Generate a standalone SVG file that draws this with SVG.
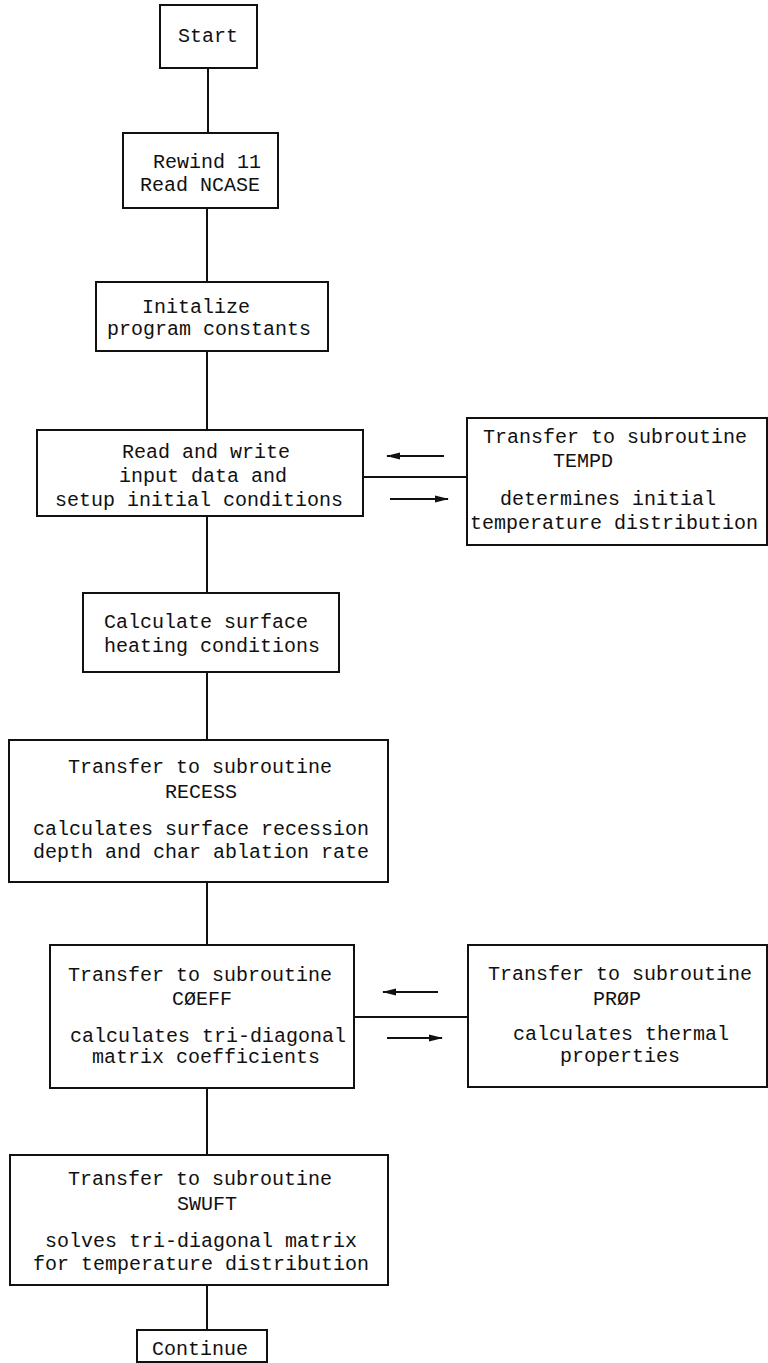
<svg xmlns="http://www.w3.org/2000/svg" width="768" height="1363" viewBox="0 0 768 1363">
<style>
.box{fill:#fff;stroke:#111;stroke-width:2}
.t{font-family:"Liberation Mono","DejaVu Sans Mono",monospace;font-size:20px;fill:#111;text-anchor:middle}
.c{stroke:#111;stroke-width:2;fill:none}
.a{stroke:#111;stroke-width:2;fill:none}
</style>
<defs>
<marker id="ah" markerWidth="14" markerHeight="10" refX="13" refY="5" orient="auto" markerUnits="userSpaceOnUse">
<path d="M0,1.5 L14,5 L0,8.5 Z" fill="#111"/>
</marker>
</defs>
<rect width="768" height="1363" fill="#fff"/>
<g id="connectors">
<line class="c" x1="208" y1="68" x2="208" y2="133"/>
<line class="c" x1="207" y1="208" x2="207" y2="282"/>
<line class="c" x1="207" y1="351" x2="207" y2="430"/>
<line class="c" x1="207" y1="516" x2="207" y2="593"/>
<line class="c" x1="207" y1="672" x2="207" y2="740"/>
<line class="c" x1="207" y1="882" x2="207" y2="945"/>
<line class="c" x1="207" y1="1088" x2="207" y2="1155"/>
<line class="c" x1="207" y1="1285" x2="207" y2="1330"/>
<line class="c" x1="363" y1="477" x2="467" y2="477"/>
<line class="a" x1="444" y1="456" x2="387" y2="456" marker-end="url(#ah)"/>
<line class="a" x1="390" y1="499" x2="448" y2="499" marker-end="url(#ah)"/>
<line class="c" x1="354" y1="1017" x2="468" y2="1017"/>
<line class="a" x1="438" y1="992" x2="383" y2="992" marker-end="url(#ah)"/>
<line class="a" x1="387" y1="1038" x2="442" y2="1038" marker-end="url(#ah)"/>
</g>
<g id="start">
<rect class="box" x="160" y="5" width="97" height="63"/>
<text class="t" x="208" y="42">Start</text>
</g>
<g id="rewind">
<rect class="box" x="123" y="133" width="155" height="75"/>
<text class="t" x="207" y="168">Rewind 11</text>
<text class="t" x="200" y="191">Read NCASE</text>
</g>
<g id="initialize">
<rect class="box" x="96" y="282" width="232" height="69"/>
<text class="t" x="196" y="313">Initalize</text>
<text class="t" x="209" y="335">program constants</text>
</g>
<g id="readwrite">
<rect class="box" x="37" y="430" width="326" height="86"/>
<text class="t" x="206" y="458">Read and write</text>
<text class="t" x="203" y="482">input data and</text>
<text class="t" x="199" y="506">setup initial conditions</text>
</g>
<g id="tempd">
<rect class="box" x="467" y="418" width="300" height="127"/>
<text class="t" x="615" y="443">Transfer to subroutine</text>
<text class="t" x="583" y="467">TEMPD</text>
<text class="t" x="608" y="505">determines initial</text>
<text class="t" x="614" y="529">temperature distribution</text>
</g>
<g id="heating">
<rect class="box" x="83" y="593" width="256" height="79"/>
<text class="t" x="206" y="628">Calculate surface</text>
<text class="t" x="212" y="652">heating conditions</text>
</g>
<g id="recess">
<rect class="box" x="9" y="740" width="379" height="142"/>
<text class="t" x="200" y="773">Transfer to subroutine</text>
<text class="t" x="201" y="798">RECESS</text>
<text class="t" x="201" y="835">calculates surface recession</text>
<text class="t" x="201" y="858">depth and char ablation rate</text>
</g>
<g id="coeff">
<rect class="box" x="50" y="945" width="304" height="143"/>
<text class="t" x="200" y="981">Transfer to subroutine</text>
<text class="t" x="202" y="1005">CØEFF</text>
<text class="t" x="208" y="1042">calculates tri-diagonal</text>
<text class="t" x="206" y="1063">matrix coefficients</text>
</g>
<g id="prop">
<rect class="box" x="468" y="945" width="299" height="142"/>
<text class="t" x="620" y="980">Transfer to subroutine</text>
<text class="t" x="617" y="1005">PRØP</text>
<text class="t" x="621" y="1040">calculates thermal</text>
<text class="t" x="620" y="1062">properties</text>
</g>
<g id="swuft">
<rect class="box" x="10" y="1155" width="378" height="130"/>
<text class="t" x="200" y="1185">Transfer to subroutine</text>
<text class="t" x="207" y="1210">SWUFT</text>
<text class="t" x="201" y="1247">solves tri-diagonal matrix</text>
<text class="t" x="201" y="1270">for temperature distribution</text>
</g>
<g id="continue">
<rect class="box" x="137" y="1330" width="130" height="32"/>
<text class="t" x="200" y="1355">Continue</text>
</g>
</svg>
